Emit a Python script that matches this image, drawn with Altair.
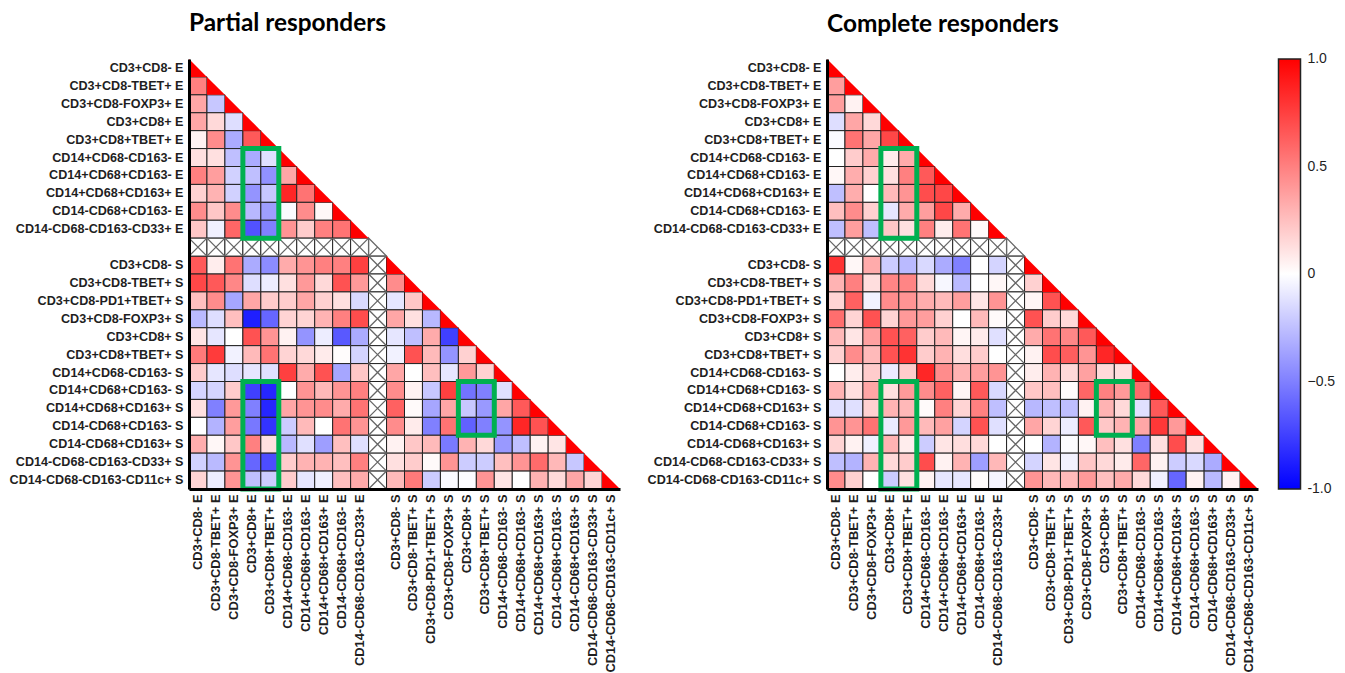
import altair as alt
import pandas as pd

labels_e = ["CD3+CD8- E","CD3+CD8-TBET+ E","CD3+CD8-FOXP3+ E","CD3+CD8+ E","CD3+CD8+TBET+ E",
            "CD14+CD68-CD163- E","CD14+CD68+CD163- E","CD14+CD68+CD163+ E","CD14-CD68+CD163- E","CD14-CD68-CD163-CD33+ E"]
labels_s = ["CD3+CD8- S","CD3+CD8-TBET+ S","CD3+CD8-PD1+TBET+ S","CD3+CD8-FOXP3+ S","CD3+CD8+ S","CD3+CD8+TBET+ S",
            "CD14+CD68-CD163- S","CD14+CD68+CD163- S","CD14+CD68+CD163+ S","CD14-CD68+CD163- S","CD14-CD68+CD163+ S",
            "CD14-CD68-CD163-CD33+ S","CD14-CD68-CD163-CD11c+ S"]
cats = labels_e + [" "] + labels_s
BLANK = 10

# E rows: values for columns 0..row-1
partial_e = [
 [0.5],
 [0.35,-0.22],
 [0.35,0.15,-0.13],
 [0.05,0.45,-0.33,0.65],
 [0.12,0.12,-0.25,-0.33,-0.12],
 [0.5,0.38,-0.18,-0.25,-0.43,0.35],
 [0.18,0.3,-0.18,-0.42,-0.22,0.85,0.55],
 [0.45,0.22,0.45,-0.28,-0.38,-0.02,0.45,0.03],
 [0.22,-0.06,0.6,-0.68,-0.5,0.42,0.2,0.5,0.55],
]
# S rows against the E columns 0..9
partial_se = [
 [0.65,0.07,0.55,-0.33,-0.45,0.33,0.42,0.5,0.5,0.75],
 [0.72,0.65,0.47,-0.13,-0.07,0.12,0.4,0.15,0.68,0.4],
 [0.25,0.45,-0.35,0.35,0.2,0.2,0.35,0.18,0.12,-0.15],
 [-0.27,-0.13,0.25,-0.88,-0.6,0.17,0.17,0.3,0.5,0.7],
 [0.1,-0.1,0.0,0.68,0.42,0.05,-0.42,-0.07,-0.65,-0.33],
 [0.52,0.77,-0.05,0.27,0.55,0.17,0.15,0.08,0.01,-0.17],
 [0.2,-0.1,-0.13,-0.1,-0.12,0.75,0.33,0.68,-0.35,0.22],
 [-0.17,-0.17,0.2,-0.75,-0.85,0.0,0.42,0.28,0.42,0.5],
 [0.12,-0.5,0.4,-0.5,-0.85,0.35,0.42,0.45,0.33,0.55],
 [0.0,-0.3,0.38,-0.53,-0.8,-0.2,0.27,0.0,0.55,0.42],
 [0.32,0.03,0.22,0.5,0.12,-0.28,-0.12,-0.38,0.25,-0.12],
 [-0.18,-0.27,0.42,-0.6,-0.7,0.2,0.3,0.3,0.25,0.5],
 [0.17,-0.07,0.42,-0.25,-0.2,0.2,-0.1,-0.06,0.25,0.33],
]
# S rows against the S columns 11..
partial_ss = [
 [],
 [0.45],
 [-0.1,0.22],
 [0.35,0.12,-0.28],
 [-0.1,-0.25,0.33,-0.75],
 [-0.05,0.68,0.27,-0.42,0.18],
 [0.35,0.0,0.25,-0.1,0.4,0.18],
 [0.45,0.05,-0.22,0.75,-0.55,-0.5,-0.12],
 [0.62,0.02,-0.35,0.35,-0.22,-0.4,0.35,0.65],
 [0.45,0.08,-0.5,0.55,-0.62,-0.5,-0.42,0.85,0.68],
 [0.05,0.22,0.27,-0.52,0.3,0.15,-0.4,-0.25,0.05,0.1],
 [0.12,0.2,0.02,0.42,-0.2,-0.2,0.25,0.42,0.58,0.28,-0.22],
 [0.27,0.52,-0.2,-0.02,-0.01,0.42,0.1,0.0,0.3,0.15,0.35,0.17],
]

complete_e = [
 [0.38],
 [0.38,0.05],
 [-0.13,0.35,0.15],
 [-0.02,0.55,0.35,0.72],
 [0.0,0.2,0.33,0.07,0.33],
 [0.03,0.32,0.18,0.12,0.5,0.65],
 [-0.25,0.32,0.0,0.27,0.42,0.7,0.72],
 [0.25,0.45,0.18,-0.1,0.33,0.38,0.72,0.33],
 [-0.25,0.38,-0.25,0.22,0.12,0.5,0.07,0.55,0.02],
]
complete_se = [
 [0.8,0.03,0.33,-0.2,-0.27,-0.15,-0.33,-0.5,0.0,-0.17],
 [0.3,0.5,0.13,0.48,0.48,0.15,-0.03,-0.27,0.0,0.03],
 [0.17,0.62,-0.05,0.45,0.42,0.32,0.27,0.38,0.1,0.42],
 [0.57,0.17,0.68,0.17,0.4,0.38,0.18,0.0,0.27,0.02],
 [0.28,0.1,0.37,0.68,0.62,0.2,0.27,0.04,0.08,-0.12],
 [0.18,0.45,0.27,0.68,0.8,0.2,0.3,0.13,0.2,0.0],
 [0.0,0.07,0.2,-0.08,0.2,0.85,0.45,0.3,0.38,0.42],
 [0.3,0.13,0.35,0.12,0.4,0.45,0.62,0.04,0.65,-0.15],
 [-0.12,-0.12,0.18,0.3,0.28,0.02,0.5,0.17,0.5,-0.25],
 [0.42,0.42,0.55,-0.08,0.4,0.27,0.37,-0.17,0.68,-0.12],
 [0.17,0.05,-0.06,0.3,0.07,-0.2,0.1,0.13,0.15,0.0],
 [-0.25,-0.3,0.3,0.15,0.2,0.7,0.05,0.3,-0.38,0.28],
 [0.45,0.18,0.0,-0.2,0.12,0.05,-0.1,-0.1,0.01,-0.04],
]
complete_ss = [
 [],
 [0.18],
 [0.04,0.68],
 [0.68,0.2,0.15],
 [0.33,0.55,0.47,0.65],
 [0.05,0.7,0.63,0.42,0.85],
 [0.07,0.3,0.15,0.37,0.15,0.13],
 [0.22,0.25,0.01,0.6,0.5,0.4,0.58],
 [-0.28,-0.25,-0.25,0.05,0.3,0.15,-0.12,0.65],
 [0.35,0.17,-0.07,0.65,0.22,0.3,0.35,0.78,0.4],
 [0.0,-0.3,-0.01,0.03,0.25,0.12,-0.5,0.12,0.7,0.12],
 [-0.17,0.1,-0.05,0.22,0.15,0.08,0.6,0.05,-0.2,-0.15,-0.33],
 [0.42,0.28,0.27,0.4,0.25,0.33,0.15,-0.06,-0.6,0.05,-0.27,0.05],
]

# highlight boxes, in cell units: first column, last column edge, first row, last row edge
box_cols = [3, 3, 15]
box_cols2 = [5, 5, 17]
box_rows = [5, 18, 18]
box_rows2 = [10, 24, 21]

legend_ticks = [-0.5, 0, 0.5]
end_values = [-1.0, 1.0]
end_labels = ["-1.0", "1.0"]
LEGEND_VALUES = [-0.5, 0, 0.5]
GREEN = "#00b050"
INK = "#1f1f1f"
TRI = "M-1,-1L-1,1L1,1Z"
CROSS = "M-1,-1L1,1M-1,1L1,-1"
TRI_CROSS = "M-1,-1L-1,1L1,1ZM-1,1L0,0"
CELL = 431 / 24
PANEL = 431
EXTENT = 181


def cell_table(e_rows, se_rows, ss_rows):
    out = []
    for i, row in enumerate(e_rows, start=1):
        out += [dict(r=cats[i], c=cats[j], v=v) for j, v in enumerate(row)]
    for i, (a, b) in enumerate(zip(se_rows, ss_rows), start=BLANK + 1):
        out += [dict(r=cats[i], c=cats[j], v=v) for j, v in enumerate(a)]
        out += [dict(r=cats[i], c=cats[j + BLANK + 1], v=v) for j, v in enumerate(b)]
    return pd.DataFrame(out)


diag = pd.DataFrame([dict(r=c, c=c) for i, c in enumerate(cats) if i != BLANK])
crossed = pd.DataFrame([dict(r=cats[BLANK], c=cats[j]) for j in range(BLANK)] +
                       [dict(r=cats[i], c=cats[BLANK]) for i in range(BLANK + 1, len(cats))])
blank_diag = pd.DataFrame([dict(r=cats[BLANK], c=cats[BLANK])])
boxes = pd.DataFrame(dict(x=box_cols, x2=box_cols2, y=box_rows, y2=box_rows2))
ticks_l = pd.DataFrame(dict(v=legend_ticks, x=[25.17] * 3, x2=[25.4] * 3))
ticks_r = pd.DataFrame(dict(v=legend_ticks, x=[26.12] * 3, x2=[26.35] * 3))
ends = pd.DataFrame(dict(v=end_values, t=end_labels, x=[26.75] * 2))

band = lambda: alt.Scale(type="band", domain=cats, paddingInner=0, paddingOuter=0)
X0 = alt.X("c:N", scale=band(), axis=None)
Y0 = alt.Y("r:N", scale=band(), axis=None)
UX = alt.Scale(domain=[0, 24], nice=False, zero=False)
UY = alt.Scale(domain=[0, 24], nice=False, zero=False, reverse=True)


def panel(title, e_rows, se_rows, ss_rows, with_ticks=False):
    x_axis = alt.Axis(title=None, labelAngle=270, labelAlign="right", labelBaseline="middle", labelPadding=5,
                      ticks=False, domainWidth=3, domainColor="#000000", labelOverlap=False,
                      labelFont="Liberation Sans", labelFontWeight="bold", labelFontSize=12.9, labelColor=INK,
                      labelLimit=200, grid=False, zindex=1)
    y_axis = alt.Axis(title=None, labelPadding=6, ticks=False, domainWidth=3, domainColor="#000000",
                      labelOverlap=False, labelFont="Liberation Sans", labelFontWeight="bold", labelFontSize=12.6,
                      labelColor=INK, labelLimit=200, grid=False, minExtent=EXTENT, maxExtent=EXTENT, zindex=1)
    heat = alt.Chart(cell_table(e_rows, se_rows, ss_rows)).mark_rect(stroke="#222222", strokeWidth=1).encode(
        x=alt.X("c:N", scale=band(), axis=x_axis),
        y=alt.Y("r:N", scale=band(), axis=y_axis),
        color=alt.Color("v:Q",
                        scale=alt.Scale(domain=[-1, 0, 1], range=["#0000ff", "#ffffff", "#ff0000"],
                                        interpolate="rgb"),
                        legend=alt.Legend(title=None, orient="none", legendX=1089.5, legendY=0,
                                          gradientLength=430, gradientThickness=22,
                                          gradientStrokeColor="#222222", gradientStrokeWidth=1.5,
                                          values=LEGEND_VALUES, labelFont="Liberation Sans", labelFontSize=14,
                                          labelColor=INK, labelOffset=7, labelBaseline="middle",
                                          labelExpr="datum.value == 0 ? '0' : format(datum.value, '.1f')")),
    )
    tri = alt.Chart(diag).mark_point(shape=TRI, filled=True, fill="#ff0000", size=CELL ** 2, opacity=1,
                                     strokeWidth=0).encode(x=X0, y=Y0)
    white = alt.Chart(crossed).mark_rect(fill="#ffffff", stroke="#222222", strokeWidth=1).encode(x=X0, y=Y0)
    xs = alt.Chart(crossed).mark_point(shape=CROSS, size=CELL ** 2, stroke="#666666", strokeWidth=1.3,
                                       opacity=1).encode(x=X0, y=Y0)
    xd = alt.Chart(blank_diag).mark_point(shape=TRI_CROSS, size=CELL ** 2, stroke="#666666", strokeWidth=1.3,
                                          opacity=1).encode(x=X0, y=Y0)
    green = alt.Chart(boxes).mark_rect(fillOpacity=0, stroke=GREEN, strokeWidth=5).encode(
        x=alt.X("x:Q", scale=UX, axis=None), x2="x2:Q",
        y=alt.Y("y:Q", scale=UY, axis=None), y2="y2:Q",
    )
    layers = [heat, white, xs, xd, tri, green]
    if with_ticks:
        vy = alt.Y("v:Q", scale=alt.Scale(domain=[-1, 1], nice=False, zero=False), axis=None)
        for t in (ticks_l, ticks_r):
            layers.append(alt.Chart(t).mark_rule(color="#222222", strokeWidth=1.5).encode(
                x=alt.X("x:Q", scale=UX, axis=None), x2="x2:Q", y=vy))
        layers.append(alt.Chart(ends).mark_text(align="left", baseline="middle", font="Liberation Sans",
                                                fontSize=14, color=INK).encode(
            x=alt.X("x:Q", scale=UX, axis=None), y=vy, text="t:N"))
    return alt.layer(*layers).resolve_scale(x="independent", y="independent").properties(
        width=PANEL, height=430,
        title=alt.TitleParams(title, anchor="start", frame="group", font="Lato", fontWeight="bold", fontSize=24.4,
                              color="#000000", offset=15 if with_ticks else 23),
    )


chart = alt.hconcat(
    panel("Partial responders", partial_e, partial_se, partial_ss),
    panel("Complete responders", complete_e, complete_se, complete_ss, with_ticks=True),
    spacing=26,
).resolve_scale(color="shared").properties(
    padding={"left": 0, "top": 2, "right": 0, "bottom": 0}, background="#ffffff"
).configure_view(stroke=None)

chart.save("out.html", embed_options={"renderer": "svg", "actions": False})
